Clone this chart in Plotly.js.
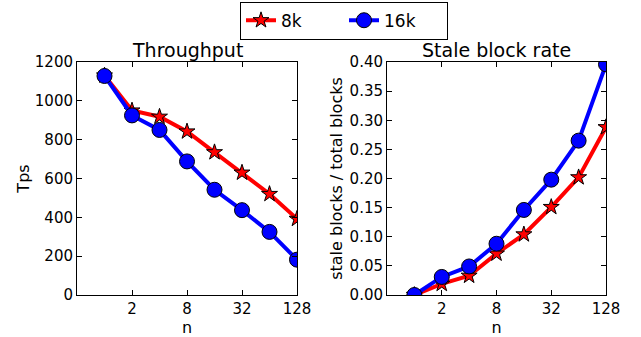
<!DOCTYPE html>
<html><head><meta charset="utf-8">
<script src="https://cdn.plot.ly/plotly-3.0.1.min.js"></script>
<style>body{margin:0;padding:0;background:#fff}#c{width:641px;height:337px}</style>
</head><body><div id="c"></div>
<script>
const n = [1, 2, 4, 8, 16, 32, 64, 128];
const tickVals = [2, 8, 32, 128];
const tickText = ['2', '8', '32', '128'];
const tps8k = [1130, 950, 918, 842, 735, 630, 520, 392];
const tps16k = [1128, 925, 850, 688, 542, 437, 325, 182];
const stale8k = [0.0, 0.019, 0.033, 0.071, 0.104, 0.151, 0.202, 0.288];
const stale16k = [0.0, 0.031, 0.049, 0.088, 0.146, 0.198, 0.265, 0.396];

const F = 'DejaVu Sans, sans-serif';
const red = {color: '#ff0000', width: 4};
const blue = {color: '#0000ff', width: 4};
const starM = {symbol: 'star', size: 12, color: '#ff0000', line: {color: '#000', width: 1}};
const circM = {symbol: 'circle', size: 15, color: '#0000ff', line: {color: '#000', width: 1}};

const data = [
  {x: n, y: tps8k, name: '8k', mode: 'lines+markers', line: red, marker: starM, xaxis: 'x', yaxis: 'y'},
  {x: n, y: tps16k, name: '16k', mode: 'lines+markers', line: blue, marker: circM, xaxis: 'x', yaxis: 'y'},
  {x: n, y: stale8k, name: '8k', mode: 'lines+markers', line: red, marker: starM, xaxis: 'x2', yaxis: 'y2', showlegend: false},
  {x: n, y: stale16k, name: '16k', mode: 'lines+markers', line: blue, marker: circM, xaxis: 'x2', yaxis: 'y2', showlegend: false}
];
const H = 337, W = 641;
const yd = [(H - 295) / H, (H - 62) / H];
const xCommon = {
  type: 'log', range: [Math.log10(0.5), Math.log10(128)], tickvals: tickVals, ticktext: tickText,
  ticks: 'inside', ticklen: 5, tickcolor: '#000', showline: true, linecolor: '#000', linewidth: 1,
  mirror: 'allticks', showgrid: false, zeroline: false, tickfont: {family: F, size: 15, color: '#000'},
  title: {text: 'n', font: {family: F, size: 16, color: '#000'}, standoff: 3}
};
const yCommon = {
  ticks: 'inside', ticklen: 5, tickcolor: '#000', showline: true, linecolor: '#000', linewidth: 1,
  mirror: 'allticks', showgrid: false, zeroline: false, tickfont: {family: F, size: 15, color: '#000'}
};
const layout = {
  width: W, height: H, margin: {l: 0, r: 0, t: 0, b: 0}, paper_bgcolor: '#fff', plot_bgcolor: '#fff',
  font: {family: F, color: '#000'},
  xaxis: Object.assign({}, xCommon, {domain: [77 / W, 297 / W], anchor: 'y'}),
  yaxis: Object.assign({}, yCommon, {domain: yd, range: [0, 1200], dtick: 200, anchor: 'x',
    title: {text: 'Tps', font: {family: F, size: 16, color: '#000'}, standoff: 1}}),
  xaxis2: Object.assign({}, xCommon, {domain: [387 / W, 606 / W], anchor: 'y2'}),
  yaxis2: Object.assign({}, yCommon, {domain: yd, range: [0, 0.40], dtick: 0.05, tickformat: '.2f', anchor: 'x2',
    title: {text: 'stale blocks / total blocks', font: {family: F, size: 16, color: '#000'}, standoff: 2}}),
  showlegend: true,
  legend: {orientation: 'h', x: 344 / W, xanchor: 'center', y: 0.995, yanchor: 'top', bordercolor: '#000', borderwidth: 1,
    entrywidth: 58, font: {family: F, size: 17, color: '#000'}, bgcolor: '#fff'},
  annotations: [
    {text: 'Throughput', xref: 'paper', yref: 'paper', x: 187 / W, y: (H - 50) / H, xanchor: 'center', yanchor: 'middle', showarrow: false, font: {family: F, size: 19, color: '#000'}},
    {text: 'Stale block rate', xref: 'paper', yref: 'paper', x: 496 / W, y: (H - 50) / H, xanchor: 'center', yanchor: 'middle', showarrow: false, font: {family: F, size: 19, color: '#000'}}
  ]
};
Plotly.newPlot('c', data, layout, {displayModeBar: false, staticPlot: true});
</script></body></html>
